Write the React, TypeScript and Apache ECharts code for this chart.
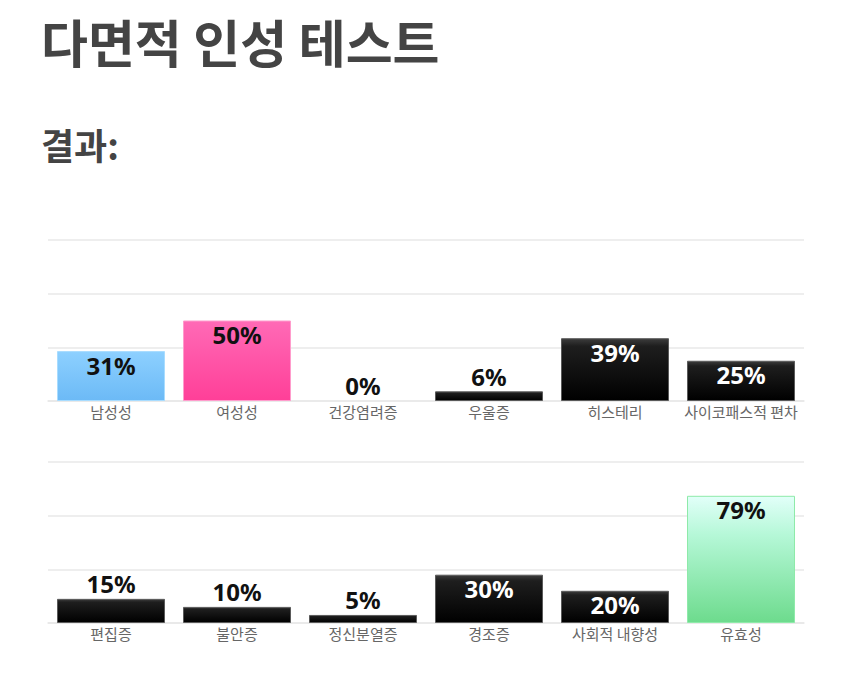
import React, { useEffect, useRef } from "react";
import * as echarts from "echarts";

const pageTitle = "다면적 인성 테스트";
const subTitle = "결과:";
const topCategories = ["남성성", "여성성", "건강염려증", "우울증", "히스테리", "사이코패스적 편차"];
const topValues = [31, 50, 0, 6, 39, 25];
const topStyles = ["blue", "pink", "black", "black", "black", "black"];
const bottomCategories = ["편집증", "불안증", "정신분열증", "경조증", "사회적 내향성", "유효성"];
const bottomValues = [15, 10, 5, 30, 20, 79];
const bottomStyles = ["black", "black", "black", "black", "black", "green"];
const insideThreshold = 20;

const fills: Record<string, any> = {
  blue: {
    color: new echarts.graphic.LinearGradient(0, 0, 0, 1, [
      { offset: 0, color: "#8dd0ff" },
      { offset: 1, color: "#6cbaf6" },
    ]),
    borderColor: "#a8dcff",
    text: "#111",
  },
  pink: {
    color: new echarts.graphic.LinearGradient(0, 0, 0, 1, [
      { offset: 0, color: "#ff6ab6" },
      { offset: 1, color: "#ff3f98" },
    ]),
    borderColor: "#ff9ccc",
    text: "#111",
  },
  black: {
    color: new echarts.graphic.LinearGradient(0, 0, 0, 1, [
      { offset: 0, color: "#3c3c3c" },
      { offset: 0.12, color: "#1e1e1e" },
      { offset: 1, color: "#000000" },
    ]),
    borderColor: "#5a5a5a",
    text: "#ffffff",
  },
  green: {
    color: new echarts.graphic.LinearGradient(0, 0, 0, 1, [
      { offset: 0, color: "#e2fff9" },
      { offset: 0.3, color: "#b6f8d8" },
      { offset: 1, color: "#6ddb8d" },
    ]),
    borderColor: "#8eeaa9",
    text: "#111",
  },
};

function buildData(values: number[], styles: string[]) {
  return values.map((v, i) => {
    const f = fills[styles[i]];
    const inside = v >= insideThreshold;
    return {
      value: v,
      itemStyle: {
        color: v === 0 ? "transparent" : f.color,
        borderColor: v === 0 ? "transparent" : f.borderColor,
        borderWidth: 1,
      },
      label: {
        show: true,
        position: inside ? "insideTop" : "top",
        distance: inside ? 2 : 3,
        color: inside ? f.text : "#111",
      },
    };
  });
}

export default function App() {
  const ref = useRef<HTMLDivElement>(null);
  useEffect(() => {
    if (!ref.current) return;
    const chart = echarts.init(ref.current, null, { renderer: "svg" });
    const gridLeft = 48;
    const gridWidth = 756;
    const yAxisBase = {
      type: "value",
      min: 0,
      max: 100,
      interval: 100 / 3,
      axisLabel: { show: false },
      axisLine: { show: false },
      axisTick: { show: false },
      splitLine: { lineStyle: { color: "#e8e8e8", width: 1.5 } },
    };
    const xAxisBase = {
      type: "category",
      axisTick: { show: false },
      axisLine: { lineStyle: { color: "#e8e8e8", width: 1.5 } },
      axisLabel: {
        color: "#666",
        fontSize: 15,
        margin: 3,
        fontFamily: "Noto Sans CJK KR",
        interval: 0,
      },
    };
    const labelBase = {
      formatter: "{c}%",
      fontSize: 24,
      fontWeight: "bold",
      fontFamily: "Noto Sans",
    };
    chart.setOption({
      animation: false,
      title: [
        {
          text: pageTitle,
          left: 36,
          top: 10,
          textStyle: { fontSize: 51, fontWeight: "bold", color: "#444", fontFamily: "Noto Sans CJK KR" },
        },
        {
          text: subTitle,
          left: 36,
          top: 121,
          textStyle: { fontSize: 36, fontWeight: "bold", color: "#444", fontFamily: "Noto Sans CJK KR" },
        },
      ],
      grid: [
        { left: gridLeft, width: gridWidth, top: 240, height: 161 },
        { left: gridLeft, width: gridWidth, top: 462, height: 161 },
      ],
      xAxis: [
        { ...xAxisBase, gridIndex: 0, data: topCategories },
        { ...xAxisBase, gridIndex: 1, data: bottomCategories },
      ],
      yAxis: [
        { ...yAxisBase, gridIndex: 0 },
        { ...yAxisBase, gridIndex: 1 },
      ],
      series: [
        {
          type: "bar",
          xAxisIndex: 0,
          yAxisIndex: 0,
          barWidth: 108,
          label: labelBase,
          data: buildData(topValues, topStyles),
        },
        {
          type: "bar",
          xAxisIndex: 1,
          yAxisIndex: 1,
          barWidth: 108,
          label: labelBase,
          data: buildData(bottomValues, bottomStyles),
        },
      ],
    });
    return () => chart.dispose();
  }, []);
  return (
    <div
      ref={ref}
      style={{ position: "absolute", left: 0, top: 0, width: 850, height: 692, background: "#fff" }}
    />
  );
}
